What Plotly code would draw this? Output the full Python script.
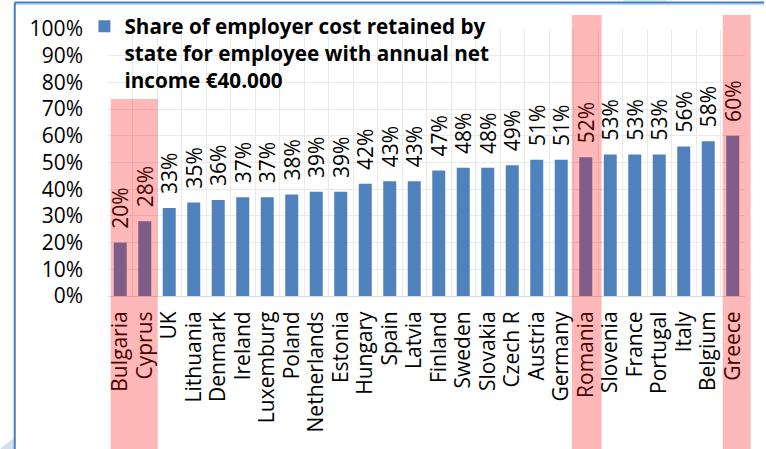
import plotly.graph_objects as go

# Share of employer cost retained by the state (annual net income EUR 40.000)
countries = ["Bulgaria", "Cyprus", "UK", "Lithuania", "Denmark", "Ireland",
             "Luxemburg", "Poland", "Netherlands", "Estonia", "Hungary", "Spain",
             "Latvia", "Finland", "Sweden", "Slovakia", "Czech R", "Austria",
             "Germany", "Romania", "Slovenia", "France", "Portugal", "Italy",
             "Belgium", "Greece"]
share_pct = [20, 28, 33, 35, 36, 37, 37, 38, 39, 39, 42, 43, 43, 47, 48, 48,
             49, 51, 51, 52, 53, 53, 53, 56, 58, 60]
y_ticks = list(range(0, 101, 10))
series_name = ("Share of employer cost retained by<br>"
               "state for employee with annual net<br>"
               "income €40.000")

# highlighted country groups: (first, last, left pad, right pad, top in paper units)
highlights = [("Bulgaria", "Cyprus", 0.39, 0.53, 0.738),
              ("Romania", "Romania", 0.57, 0.65, 1.052),
              ("Greece", "Greece", 0.41, 0.73, 1.052)]

FONT = "Open Sans"
BAR_BLUE = "#4F81BD"
GRID = "#EAEAEA"

fig = go.Figure()
fig.add_trace(go.Bar(
    x=countries, y=share_pct, name=series_name,
    marker=dict(color=BAR_BLUE, line=dict(width=0)),
    text=[f"\u00a0\u00a0{v}%" for v in share_pct],
    texttemplate="%{text}", textposition="outside", textangle=-90,
    constraintext="none", cliponaxis=False,
    textfont=dict(family=FONT, size=21, color="#000000"),
    showlegend=True,
))

n = len(countries)


def cat_to_paper(pos):
    # category axis spans [-0.5, n-0.5] over the full x domain
    return (pos + 0.5) / n


shapes = []
for first, last, lpad, rpad, top in highlights:
    i0, i1 = countries.index(first), countries.index(last)
    shapes.append(dict(
        type="rect", xref="paper", yref="paper",
        x0=cat_to_paper(i0 - lpad), x1=cat_to_paper(i1 + rpad),
        y0=-0.7, y1=top, layer="above",
        fillcolor="rgba(255,0,0,0.28)", line=dict(width=0),
    ))

# slide frame around the chart
shapes += [
    dict(type="rect", xref="paper", yref="paper", x0=0.8085, x1=0.8776,
         y0=1.095, y1=1.12, fillcolor="#D6ECF8", line=dict(width=0),
         layer="above"),
    dict(type="path", xref="paper", yref="paper",
         path="M -0.1695,-0.573 L -0.146,-0.528 L -0.146,-0.573 Z",
         fillcolor="#D3DEF0", line=dict(width=0), layer="above"),
    dict(type="line", xref="paper", yref="paper", x0=-0.1464, x1=1.03,
         y0=1.093, y1=1.093, line=dict(color="#C9DDF2", width=2), layer="above"),
    dict(type="line", xref="paper", yref="paper", x0=-0.1464, x1=1.03,
         y0=1.099, y1=1.099, line=dict(color="#4A7EBB", width=2), layer="above"),
    dict(type="line", xref="paper", yref="paper", x0=-0.1464, x1=-0.1464,
         y0=1.099, y1=-0.7, line=dict(color="#4A7EBB", width=2), layer="above"),
]

fig.update_layout(
    width=766, height=449,
    margin=dict(l=108, r=21, t=29, b=153, autoexpand=False),
    paper_bgcolor="white", plot_bgcolor="white",
    font=dict(family=FONT, size=21, color="#000000"),
    bargap=0.47,
    shapes=shapes,
    legend=dict(
        x=-0.037, y=1.085, xanchor="left", yanchor="top",
        bgcolor="rgba(0,0,0,0)", valign="top",
        font=dict(family=FONT, size=20.7, color="#000000", weight="bold"),
        itemclick=False, itemdoubleclick=False,
    ),
    xaxis=dict(
        type="category", tickangle=-90, tickson="boundaries",
        tickmode="linear", tick0=0, dtick=1,
        showgrid=True, gridcolor=GRID, gridwidth=1,
        showline=True, linecolor="#D9D9D9", linewidth=1,
        ticks="", ticklabelstandoff=6,
        tickfont=dict(family=FONT, size=21, color="#000000"),
        range=[-0.5, n - 0.5], fixedrange=True,
    ),
    yaxis=dict(
        range=[0, 100], tickvals=y_ticks, ticktext=[f"{v}%" for v in y_ticks],
        showgrid=True, gridcolor=GRID, gridwidth=1, zeroline=False,
        showline=False, ticks="", ticklabelstandoff=24,
        tickfont=dict(family=FONT, size=21, color="#000000"),
        fixedrange=True,
    ),
)

fig.write_html("out.html", config={"displayModeBar": False})
